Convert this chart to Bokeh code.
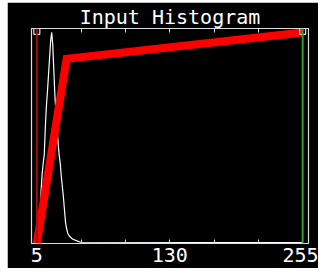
from bokeh.plotting import figure
from bokeh.models import Span, LinearAxis, FixedTicker, Range1d, InlineStyleSheet
from bokeh.embed import file_html
from bokeh.resources import INLINE

# ---- data ----
hist_x = [0, 7, 8, 9, 10, 11, 12, 13, 14, 15, 16, 17, 18, 19, 20, 21, 22, 23, 24, 25,
          26, 27, 28, 29, 30, 31, 32, 33, 34, 35, 36, 37, 38, 39, 40, 41, 42, 43,
          44, 45, 46, 255]
hist_y = [0, 0, 0.05, 0.25, 0.33, 0.38, 0.42, 0.55, 0.65, 0.72, 0.80, 0.88, 0.96, 1.0,
          0.94, 0.82, 0.70, 0.62, 0.55, 0.48, 0.42, 0.38, 0.32, 0.27, 0.22, 0.16,
          0.10, 0.07, 0.05, 0.04, 0.033, 0.028, 0.024, 0.02, 0.018, 0.016, 0.014,
          0.012, 0.01, 0.008, 0.006, 0.004]
curve_x = [5, 33, 255]
curve_y = [0.0, 0.875, 1.0]
in_black = 5
in_white = 255
tick_labels = [5, 130, 255]
minor_ticks = [46.67, 88.33, 171.67, 213.33]
title_text = "Input Histogram"

FONT = "DejaVu Sans Mono"

p = figure(width=311, height=266, output_backend="svg", toolbar_location=None,
           x_range=Range1d(0, 260.5), y_range=Range1d(0, 1.0186),
           x_axis_location=None, y_axis_location=None,
           min_border_left=24, min_border_right=10, min_border_top=22,
           min_border_bottom=25, title=title_text)
p.styles = {"position": "relative", "left": "7px", "top": "2px"}
p.stylesheets = [InlineStyleSheet(css=":host { position: relative; left: 7px; top: 2px; }")]
p.title.align = "center"
p.title.text_color = "white"
p.title.text_font = FONT
p.title.text_font_size = "20px"
p.title.text_font_style = "normal"
p.title.standoff = 0
p.title.offset = 0
p.background_fill_color = "black"
p.border_fill_color = "black"
p.outline_line_color = "#dddddd"
p.outline_line_width = 1.2
p.grid.visible = False

ticker = FixedTicker(ticks=tick_labels, minor_ticks=minor_ticks)
for loc in ("below", "above"):
    ax = LinearAxis(ticker=ticker)
    ax.axis_line_color = None
    ax.major_tick_in = 4
    ax.major_tick_out = 0
    ax.minor_tick_in = 4
    ax.minor_tick_out = 0
    ax.major_tick_line_color = "#dddddd"
    ax.minor_tick_line_color = "#dddddd"
    if loc == "below":
        ax.major_label_text_color = "white"
        ax.major_label_text_font = FONT
        ax.major_label_text_font_size = "20px"
        ax.major_label_standoff = 4
    else:
        ax.major_label_overrides = {t: "" for t in tick_labels}
        ax.major_label_standoff = 0
    p.add_layout(ax, loc)

p.add_layout(Span(location=in_black, dimension="height", line_color="#a01010", line_width=2))
p.add_layout(Span(location=in_white, dimension="height", line_color="#2e9e2e", line_width=2))

p.line(hist_x, hist_y, line_color="white", line_width=1.2)
p.line(curve_x, curve_y, line_color="#ff0000", line_width=8, line_join="miter")

p.scatter([in_black, in_white], [1.005, 1.005], marker="square", size=6,
          fill_color=None, line_color="#dddddd", line_width=1.2)

open("out.html", "w").write(file_html(p, INLINE))
